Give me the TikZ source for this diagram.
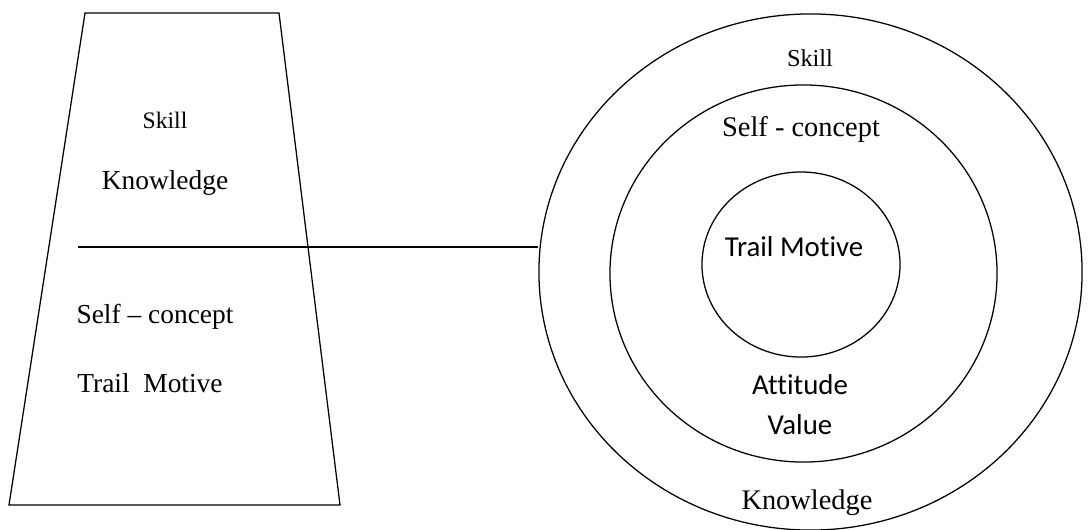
\documentclass[tikz,border=0pt]{standalone}
\usepackage{fontspec}
\setmainfont{Liberation Serif}
\newfontfamily\calibrifont[Ligatures=NoCommon]{Carlito}
\usetikzlibrary{shapes.geometric, positioning, calc}

\begin{document}
\begin{tikzpicture}[x=0.025cm, y=-0.025cm, line width=0.9pt,
  ring/.style={draw, ellipse, inner sep=0pt},
  txt/.style={inner sep=0pt, font=\fontsize{19.5}{22}\selectfont},
  bigtxt/.style={inner sep=0pt, font=\fontsize{20.2}{23}\selectfont},
  smalltxt/.style={inner sep=0pt, font=\fontsize{16.8}{19}\selectfont},
  sanstxt/.style={inner sep=0pt, font=\calibrifont\fontsize{20.5}{23}\selectfont}]
\useasboundingbox (0,0) rectangle (1091,529);

% iceberg (trapezoid)
\coordinate (tl) at (85,13);
\coordinate (tr) at (279,13);
\coordinate (br) at (340,505);
\coordinate (bl) at (9,505);
\draw (tl) -- (tr) -- (br) -- (bl) -- cycle;

\node[smalltxt] (skillL) at (165,120) {Skill};
\node[txt] (knowL) at (165,183) {Knowledge};
\node[txt] (selfL) at (155,317) {Self -- concept};
\node[txt] (traitL) at (150,383) {Trail\ \ Motive};

% concentric circles
\node[ring, minimum width=13.575cm, minimum height=12.9cm] (outer) at (810.5,272) {};
\node[ring, minimum width=9.675cm, minimum height=9.425cm] (middle) at (803.5,273.5) {};
\node[ring, minimum width=4.95cm, minimum height=4.625cm] (inner) at (801,264.5) {};

\node[smalltxt, font=\fontsize{17.3}{19}\selectfont] (skillR) at (810,58) {Skill};
\node[bigtxt] (selfR) at (801,130) {Self - concept};
\node[sanstxt] (traitR) at (794,247) {Trail Motive};
\node[sanstxt] (attR) at (800,385) {Attitude};
\node[sanstxt] (valR) at (800,425) {Value};
\node[bigtxt] (knowR) at (807,503) {Knowledge};

% waterline
\coordinate (divL) at (78,247);
\draw (divL) -- (divL -| outer.west);
\end{tikzpicture}
\end{document}
